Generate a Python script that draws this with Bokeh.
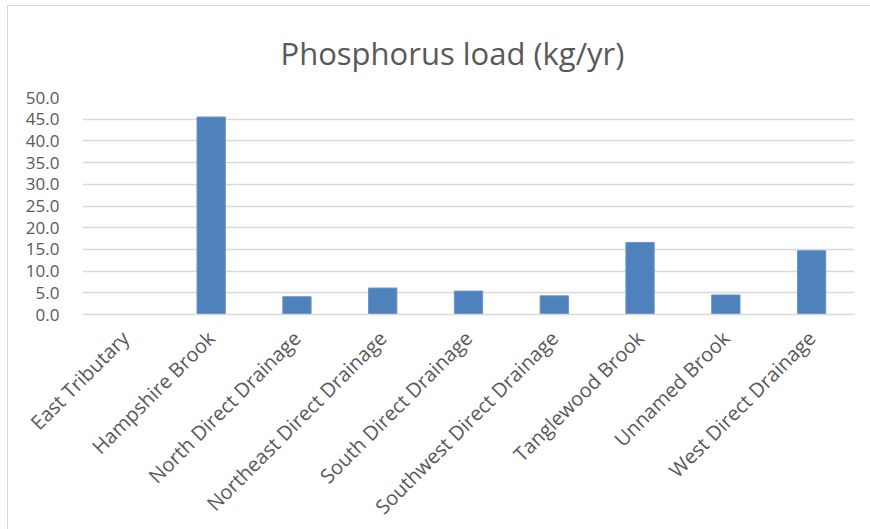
from bokeh.plotting import figure
from bokeh.models import FixedTicker, NumeralTickFormatter, Range1d
from bokeh.embed import file_html
from bokeh.resources import INLINE
import math

categories = ["East Tributary", "Hampshire Brook", "North Direct Drainage",
              "Northeast Direct Drainage", "South Direct Drainage",
              "Southwest Direct Drainage", "Tanglewood Brook", "Unnamed Brook",
              "West Direct Drainage"]
loads = [0.0, 45.5, 4.1, 6.1, 5.4, 4.3, 16.6, 4.5, 14.7]
y_ticks = [0, 5, 10, 15, 20, 25, 30, 35, 40, 45, 50]

FONT = "Open Sans"
TXT = "#595959"
OX, OY = 8, 6          # chart-area offset
W, H = 870, 530

p = figure(x_range=categories, y_range=Range1d(0, 50), width=W, height=H,
           output_backend="svg", toolbar_location=None,
           min_border_left=82 - OX, min_border_right=W + OX - 854,
           min_border_top=96 - OY, min_border_bottom=H + OY - 314)
p.margin = (OY, 0, 0, OX)
p.styles = {"outline": "1px solid #d9d9d9"}

p.title.text = "Phosphorus load (kg/yr)"
p.title.align = "left"
p.title.offset = 198
p.title.text_font = FONT
p.title.text_font_size = "31px"
p.title.text_font_style = "normal"
p.title.text_color = TXT
p.title.standoff = 47

p.vbar(x=categories, top=loads, width=0.33, fill_color="#4f81bd",
       line_color="#6a95c9", line_width=1)

p.outline_line_color = None

p.xgrid.grid_line_color = None
p.ygrid.grid_line_color = "#d9d9d9"
p.ygrid.grid_line_width = 1.5
p.yaxis.ticker = FixedTicker(ticks=y_ticks)
p.yaxis.formatter = NumeralTickFormatter(format="0.0")
p.yaxis.axis_line_color = None
p.yaxis.major_tick_line_color = None
p.yaxis.minor_tick_line_color = None
p.yaxis.major_label_text_font = FONT
p.yaxis.major_label_text_font_size = "17px"
p.yaxis.major_label_text_color = TXT
p.yaxis.major_label_standoff = 17

p.xaxis.axis_line_color = "#d9d9d9"
p.xaxis.axis_line_width = 1.5
p.xaxis.major_tick_line_color = None
p.xaxis.minor_tick_line_color = None
p.xaxis.major_label_orientation = math.pi / 4
p.xaxis.major_label_text_font = FONT
p.xaxis.major_label_text_font_size = "20px"
p.xaxis.major_label_text_color = TXT
p.xaxis.major_label_standoff = 14

open("out.html", "w").write(file_html(p, INLINE))
